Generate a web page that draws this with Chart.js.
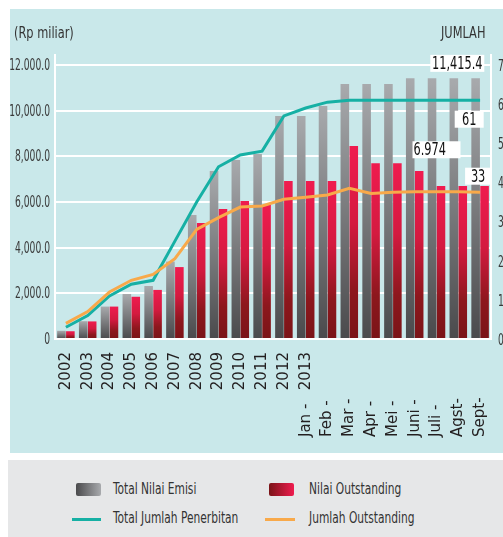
<!DOCTYPE html>
<html>
<head>
<meta charset="utf-8">
<script src="https://cdn.jsdelivr.net/npm/chart.js@4.4.1/dist/chart.umd.min.js"></script>
<style>
  body {
    margin: 0;
    width: 503px;
    height: 537px;
    position: relative;
    overflow: hidden;
    background: #fff;
    font-family: "Liberation Sans Narrow", "DejaVu Sans Condensed", sans-serif;
    color: #333;
  }
  #panel { position: absolute; left: 10px; top: 9px; width: 493px; height: 444px; background: #c9e8ea; }
  #panel canvas { position: absolute; left: 0; top: 0; }
  .unit { position: absolute; font-size: 16px; line-height: 16px; white-space: nowrap; transform: scaleX(0.79); transform-origin: left top; }
  #legend { position: absolute; left: 8px; top: 460px; width: 495px; height: 77px; background: #e6e7e8; }
  .swatch { position: absolute; width: 25px; height: 13px; border-radius: 2px; }
  .line { position: absolute; height: 3px; }
  .label { position: absolute; font-size: 16px; line-height: 16px; white-space: nowrap; transform: scaleX(0.74); transform-origin: left top; }
</style>
</head>
<body>
<div id="panel">
  <canvas id="myChart" width="493" height="444"></canvas>
  <div class="unit" style="left:4px; top:16px;">(Rp miliar)</div>
  <div class="unit" style="left:431px; top:16px;">JUMLAH</div>
</div>
<div id="legend">
  <div class="swatch" style="left:68px; top:23px; background:linear-gradient(to right,#4a4a4c,#a8aaad);"></div>
  <div class="label" id="lg0" style="left:105px; top:21px;"></div>
  <div class="swatch" style="left:261px; top:23px; background:linear-gradient(to right,#7a1417,#ef1c4f);"></div>
  <div class="label" id="lg1" style="left:301px; top:21px;"></div>
  <div class="line" style="left:64px; top:58px; width:29px; background:#16b0a4;"></div>
  <div class="label" id="lg2" style="left:105px; top:50px;"></div>
  <div class="line" style="left:257px; top:58px; width:30px; background:#f8a94a;"></div>
  <div class="label" id="lg3" style="left:301px; top:50px;"></div>
</div>
<script>
// categories
const yearCats = ["2002", "2003", "2004", "2005", "2006", "2007", "2008", "2009", "2010", "2011", "2012"];
const monthYear = "2013";
const monthCats = ["Jan -", "Feb -", "Mar -", "Apr -", "Mei -", "Juni -", "Juli -", "Agst-", "Sept-"];
const categories = yearCats.concat(monthCats);

const seriesNames = ["Total Nilai Emisi", "Nilai Outstanding", "Total Jumlah Penerbitan", "Jumlah Outstanding"];

// Rp miliar (left axis)
const totalNilaiEmisi = [360, 780, 1420, 1970, 2320, 3390, 5430, 7360, 7840, 8100, 9770, 9770, 10200, 11170, 11170, 11170, 11415.4, 11415.4, 11415.4, 11415.4];
const nilaiOutstanding = [340, 770, 1420, 1850, 2150, 3150, 5080, 5690, 6040, 5870, 6920, 6920, 6920, 8450, 7700, 7700, 7360, 6700, 6700, 6700];

// jumlah (right axis)
const totalJumlahPenerbitan = [3, 6, 11, 14, 15, 25, 35, 44, 47, 48, 57, 59, 60.5, 61, 61, 61, 61, 61, 61, 61];
const jumlahOutstanding = [4, 7, 12, 15, 16.5, 20.5, 28, 31, 33.7, 34, 35.7, 36.2, 36.8, 38.5, 37.2, 37.5, 37.6, 37.6, 37.6, 37.5];

// ticks
const leftTicks = [0, 2000, 4000, 6000, 8000, 10000, 12000];
const leftTickLabels = ["0", "2,000.0", "4,000.0", "6,000.0", "8,000.0", "10,000.0", "12.000.0"];
const rightTicks = [0, 10, 20, 30, 40, 50, 60, 70];

// boxed value labels
const callouts = [
  { text: "11,415.4", at: 18, axis: "y", value: totalNilaiEmisi[19], dx: -1, dy: -15, w: 54 },
  { text: "61", at: 18.5, axis: "y1", value: totalJumlahPenerbitan[19], dx: 0, dy: 19, w: 29 },
  { text: "6.974", at: 17, axis: "y", value: 6974, dx: 0, dy: -30, w: 48, left: true },
  { text: "33", at: 19, axis: "y1", value: jumlahOutstanding[19], dx: -2, dy: -16, w: 26 },
];

const narrow = '"Liberation Sans Narrow", "DejaVu Sans Condensed", sans-serif';

seriesNames.forEach((n, i) => { document.getElementById("lg" + i).textContent = n; });

function barFill(stops) {
  return function (context) {
    const { ctx, chartArea, scales } = context.chart;
    if (!chartArea || context.raw == null) return stops[0][1];
    const top = scales.y.getPixelForValue(context.raw);
    const bottom = scales.y.getPixelForValue(0);
    const g = ctx.createLinearGradient(0, top, 0, bottom);
    stops.forEach((s) => g.addColorStop(s[0], s[1]));
    return g;
  };
}

// squeezed text, the original uses a condensed face
function squeezeText(ctx, text, x, y, align, sx) {
  ctx.save();
  ctx.translate(x, y);
  ctx.scale(sx, 1);
  ctx.textAlign = align;
  ctx.fillText(text, 0, 0);
  ctx.restore();
}

// x labels: years end at the axis, months hang from the bottom
const xLabels = {
  id: "xLabels",
  afterDraw(chart) {
    const { ctx, scales: { x } } = chart;
    ctx.save();
    ctx.font = '15px "DejaVu Sans", sans-serif';
    ctx.fillStyle = "#231f20";
    ctx.textBaseline = "middle";
    const draw = (text, i, y, align) => {
      ctx.save();
      ctx.translate(x.getPixelForValue(i), y);
      ctx.rotate(-Math.PI / 2);
      ctx.textAlign = align;
      ctx.fillText(text, 0, 0);
      ctx.restore();
    };
    yearCats.forEach((lab, i) => draw(lab, i, 343, "right"));
    draw(monthYear, yearCats.length, 343, "right");
    monthCats.forEach((lab, i) => draw(lab, yearCats.length + i, 428, "left"));
    ctx.restore();
  },
};

// y tick labels
const yLabels = {
  id: "yLabels",
  afterDraw(chart) {
    const { ctx, chartArea, scales } = chart;
    ctx.save();
    ctx.font = "15px " + narrow;
    ctx.fillStyle = "#3a3a3a";
    ctx.textBaseline = "middle";
    leftTicks.forEach((v, i) => {
      squeezeText(ctx, leftTickLabels[i], chartArea.left - 5, scales.y.getPixelForValue(v) + 1, "right", 0.68);
    });
    rightTicks.forEach((v) => {
      squeezeText(ctx, String(v), chartArea.right + 7, scales.y1.getPixelForValue(v) + 2, "left", 0.68);
    });
    ctx.restore();
  },
};

const calloutBoxes = {
  id: "callouts",
  afterDatasetsDraw(chart) {
    const { ctx, scales } = chart;
    ctx.save();
    ctx.font = "18px " + narrow;
    ctx.textBaseline = "middle";
    callouts.forEach((c) => {
      const cx = scales.x.getPixelForValue(c.at) + c.dx;
      const cy = scales[c.axis].getPixelForValue(c.value) + c.dy;
      ctx.fillStyle = "#fff";
      ctx.fillRect(cx - c.w / 2, cy - 8.5, c.w, 17);
      ctx.fillStyle = "#111";
      squeezeText(ctx, c.text, c.left ? cx - c.w / 2 + 1 : cx, cy + 1, c.left ? "left" : "center", 0.7);
    });
    ctx.restore();
  },
};

const config = {
  type: "bar",
  data: {
    labels: categories,
    datasets: [
      {
        type: "line",
        label: seriesNames[3],
        data: jumlahOutstanding,
        yAxisID: "y1",
        borderColor: "#f8a94a",
        borderWidth: 3,
        pointRadius: 0,
        tension: 0,
        order: 0,
      },
      {
        type: "line",
        label: seriesNames[2],
        data: totalJumlahPenerbitan,
        yAxisID: "y1",
        borderColor: "#16b0a4",
        borderWidth: 3,
        pointRadius: 0,
        tension: 0,
        order: 1,
      },
      {
        label: seriesNames[0],
        data: totalNilaiEmisi,
        yAxisID: "y",
        backgroundColor: barFill([[0, "#a8aaad"], [1, "#4a4a4c"]]),
        categoryPercentage: 0.82,
        barPercentage: 0.96,
        order: 2,
      },
      {
        label: seriesNames[1],
        data: nilaiOutstanding,
        yAxisID: "y",
        backgroundColor: barFill([[0, "#ef1c4f"], [0.4, "#d41a40"], [0.75, "#8d171d"], [1, "#7a1417"]]),
        categoryPercentage: 0.82,
        barPercentage: 0.96,
        order: 2,
      },
    ],
  },
  options: {
    responsive: false,
    animation: false,
    layout: { padding: { top: 46, left: 0, right: 0, bottom: 0 } },
    plugins: { legend: { display: false }, tooltip: { enabled: false } },
    scales: {
      x: {
        grid: { display: false },
        border: { color: "#fff", width: 2 },
        ticks: { display: false },
        afterFit: (s) => { s.height = 114; },
      },
      y: {
        position: "left",
        min: 0,
        max: 12438,
        afterBuildTicks: (s) => { s.ticks = leftTicks.map((v) => ({ value: v })); },
        afterFit: (s) => { s.width = 45; },
        grid: { color: "#fff", lineWidth: 2, drawTicks: false },
        border: { color: "#fff", width: 2 },
        ticks: { display: false },
      },
      y1: {
        position: "right",
        min: 0,
        max: 72.55,
        afterBuildTicks: (s) => { s.ticks = rightTicks.map((v) => ({ value: v })); },
        afterFit: (s) => { s.width = 12; },
        grid: { drawOnChartArea: false, drawTicks: false },
        border: { color: "#fff", width: 2 },
        ticks: { display: false },
      },
    },
  },
  plugins: [xLabels, yLabels, calloutBoxes],
};

const myChart = new Chart(document.getElementById("myChart"), config);
</script>
</body>
</html>
